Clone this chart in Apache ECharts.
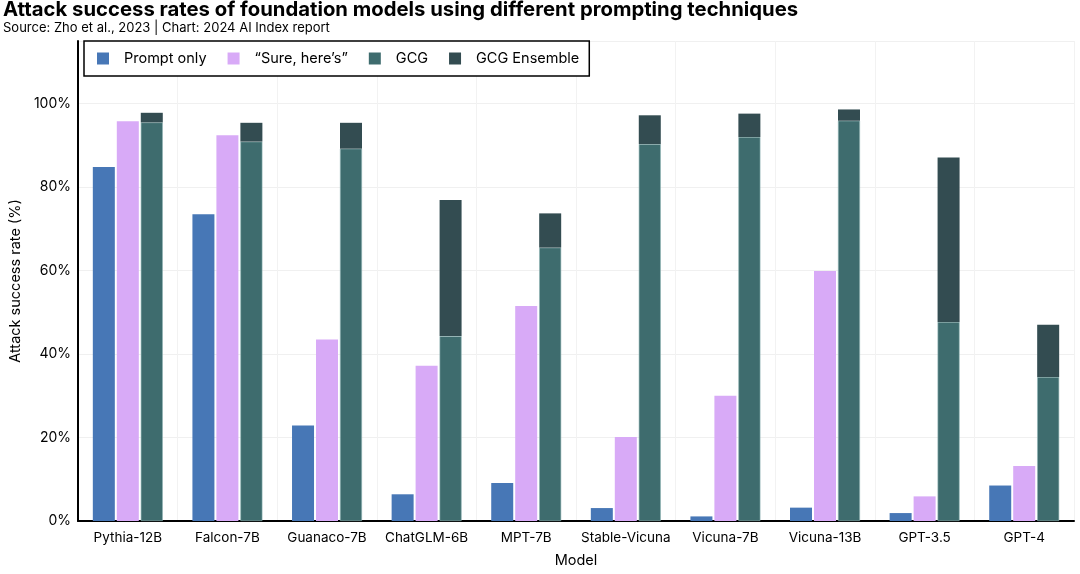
<!DOCTYPE html>
<html>
<head>
<meta charset="utf-8">
<script src="https://cdn.jsdelivr.net/npm/echarts@6/dist/echarts.min.js"></script>
<style>
html,body{margin:0;padding:0;background:#fff;}
#chart{width:1080px;height:574px;}
</style>
</head>
<body>
<div id="chart"></div>
<script>
const models = ["Pythia-12B","Falcon-7B","Guanaco-7B","ChatGLM-6B","MPT-7B","Stable-Vicuna","Vicuna-7B","Vicuna-13B","GPT-3.5","GPT-4"];
const promptOnly = [84.8, 73.5, 22.9, 6.4, 9.1, 3.1, 1.1, 3.2, 1.9, 8.5];
const sureHeres  = [95.8, 92.4, 43.5, 37.2, 51.5, 20.1, 30.0, 59.9, 5.9, 13.2];
const gcg        = [95.5, 90.9, 89.2, 44.3, 65.5, 90.3, 92.0, 95.9, 47.7, 34.5];
const gcgEnsemble= [97.8, 95.4, 95.4, 76.9, 73.7, 97.2, 97.6, 98.6, 87.1, 47.0];
const yTicks = [0, 20, 40, 60, 80, 100];

const FONT = "Inter, 'Noto Sans', sans-serif";
const ensembleExtra = gcgEnsemble.map((v, i) => +(v - gcg[i]).toFixed(2));

const chart = echarts.init(document.getElementById('chart'));
chart.setOption({
  animation: false,
  backgroundColor: '#fff',
  textStyle: { fontFamily: FONT },
  title: {
    text: 'Attack success rates of foundation models using different prompting techniques',
    subtext: 'Source: Zho et al., 2023 | Chart: 2024 AI Index report',
    left: 3, top: 0, padding: 0, itemGap: 2,
    textStyle: { fontFamily: FONT, fontSize: 20.3, fontWeight: 'bold', color: '#000' },
    subtextStyle: { fontFamily: FONT, fontSize: 13, color: '#000' }
  },
  legend: {
    left: 84, top: 41,
    padding: [10, 10, 10, 13],
    itemWidth: 12, itemHeight: 12, itemGap: 21,
    borderColor: '#000', borderWidth: 1.5, borderRadius: 0,
    backgroundColor: '#fff',
    icon: 'rect',
    itemStyle: { borderWidth: 0 },
    textStyle: { fontFamily: FONT, fontSize: 14.5, color: '#000', padding: [0, 0, 0, 10] },
    data: ['Prompt only', '\u201cSure, here\u2019s\u201d', 'GCG', 'GCG Ensemble']
  },
  grid: { left: 64, right: 6, top: 41, bottom: 53 },
  xAxis: {
    type: 'category',
    data: models,
    name: 'Model', nameLocation: 'middle', nameGap: 32,
    nameTextStyle: { fontFamily: FONT, fontSize: 14.5, color: '#000' },
    axisLine: { lineStyle: { color: '#000', width: 2 } },
    axisTick: { show: false },
    axisLabel: { fontFamily: FONT, fontSize: 13.5, color: '#000', margin: 10, interval: 0 },
    splitLine: { show: true, interval: 0, lineStyle: { color: '#f2f2f2', width: 1 } }
  },
  yAxis: {
    type: 'value', min: 0, max: 115, interval: 20,
    name: 'Attack success rate (%)', nameLocation: 'middle', nameGap: 54,
    nameTextStyle: { fontFamily: FONT, fontSize: 14.5, color: '#000' },
    axisLine: { show: true, lineStyle: { color: '#000', width: 2 } },
    axisTick: { show: false },
    axisLabel: {
      fontFamily: FONT, fontSize: 14, color: '#000', margin: 7,
      showMaxLabel: false,
      formatter: v => yTicks.includes(v) ? v + '%' : ''
    },
    splitLine: { show: true, lineStyle: { color: '#f0f0f0', width: 1 } }
  },
  series: [
    { name: 'Prompt only', type: 'bar', data: promptOnly, barWidth: 22,
      itemStyle: { color: '#4777b6' } },
    { name: '\u201cSure, here\u2019s\u201d', type: 'bar', data: sureHeres, barWidth: 22,
      itemStyle: { color: '#d8aaf7' } },
    { name: 'GCG', type: 'bar', stack: 'gcg', data: gcg, barWidth: 22,
      itemStyle: { color: '#3e6c6e', borderColor: '#8fb3b3', borderWidth: 0.6 } },
    { name: 'GCG Ensemble', type: 'bar', stack: 'gcg', data: ensembleExtra, barWidth: 22, barGap: '9%',
      itemStyle: { color: '#334c51' } }
  ]
});
</script>
</body>
</html>
